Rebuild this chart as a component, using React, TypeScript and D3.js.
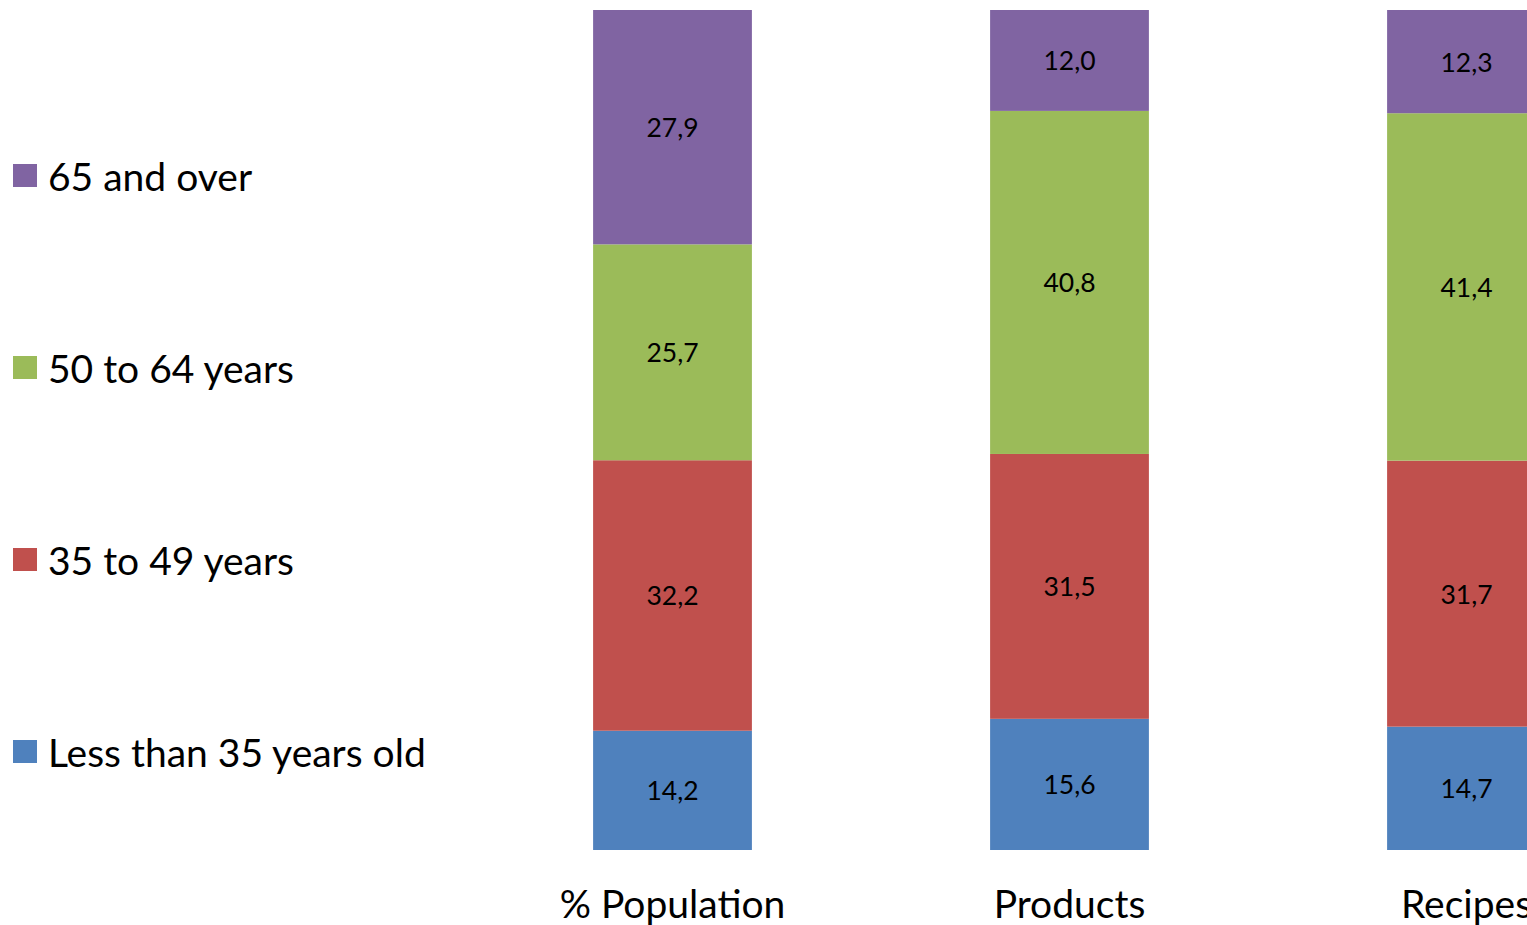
import React from "react";
import * as d3 from "d3";

// Share of each age group (in %) for population, products and recipes
const categories = ["% Population", "Products", "Recipes"];
const seriesNames = ["Less than 35 years old", "35 to 49 years", "50 to 64 years", "65 and over"];
const under35 = [14.2, 15.6, 14.7];
const age35to49 = [32.2, 31.5, 31.7];
const age50to64 = [25.7, 40.8, 41.4];
const over65 = [27.9, 12.0, 12.3];
const colors = ["#4F81BD", "#C0504D", "#9BBB59", "#8064A2"];

const W = 1527;
const H = 925;
const FONT = "Lato, 'Open Sans', sans-serif";

export default function App() {
  const seriesValues = [under35, age35to49, age50to64, over65];
  const rows = categories.map((c, i) => {
    const r: Record<string, any> = { cat: c };
    seriesNames.forEach((s, k) => (r[s] = seriesValues[k][i]));
    return r;
  });
  // 100% stacked columns
  const stack = d3.stack<any>().keys(seriesNames).offset(d3.stackOffsetExpand);
  const layers = stack(rows);

  const x = d3
    .scaleBand<string>()
    .domain(categories)
    .range([474, 1665])
    .paddingInner(0.6)
    .paddingOuter(0.3);
  const y = d3.scaleLinear().domain([0, 1]).range([850, 10]);

  const fmt = (v: number) => d3.format(".1f")(v).replace(".", ",");

  const legendY = d3
    .scalePoint<string>()
    .domain(seriesNames.slice().reverse())
    .range([176, 752]);

  return (
    <svg
      width={W}
      height={H}
      style={{ position: "absolute", left: 0, top: 0, background: "#fff" }}
      fontFamily={FONT}
    >
      {layers.map((layer, k) => (
        <g key={layer.key} fill={colors[k]}>
          {layer.map((d, i) => {
            const top = y(d[1]);
            const bot = y(d[0]);
            return (
              <rect
                key={i}
                x={x(categories[i])}
                y={top}
                width={x.bandwidth()}
                height={bot - top}
              />
            );
          })}
        </g>
      ))}
      {layers.map((layer, k) => (
        <g key={"l" + layer.key}>
          {layer.map((d, i) => (
            <text
              key={i}
              x={(x(categories[i]) as number) + x.bandwidth() / 2}
              y={(y(d[0]) + y(d[1])) / 2}
              textAnchor="middle"
              dominantBaseline="central"
              fontSize={26.5}
              fill="#000"
            >
              {fmt(seriesValues[k][i])}
            </text>
          ))}
        </g>
      ))}
      {categories.map((c) => (
        <text
          key={c}
          x={(x(c) as number) + x.bandwidth() / 2}
          y={918}
          textAnchor="middle"
          fontSize={39}
          fill="#000"
        >
          {c}
        </text>
      ))}
      {seriesNames.map((s, k) => {
        const cy = legendY(s) as number;
        return (
          <g key={s}>
            <rect x={13} y={cy - 12} width={24} height={23} fill={colors[k]} />
            <text x={48} y={cy} dominantBaseline="central" fontSize={39} fill="#000">
              {s}
            </text>
          </g>
        );
      })}
    </svg>
  );
}
